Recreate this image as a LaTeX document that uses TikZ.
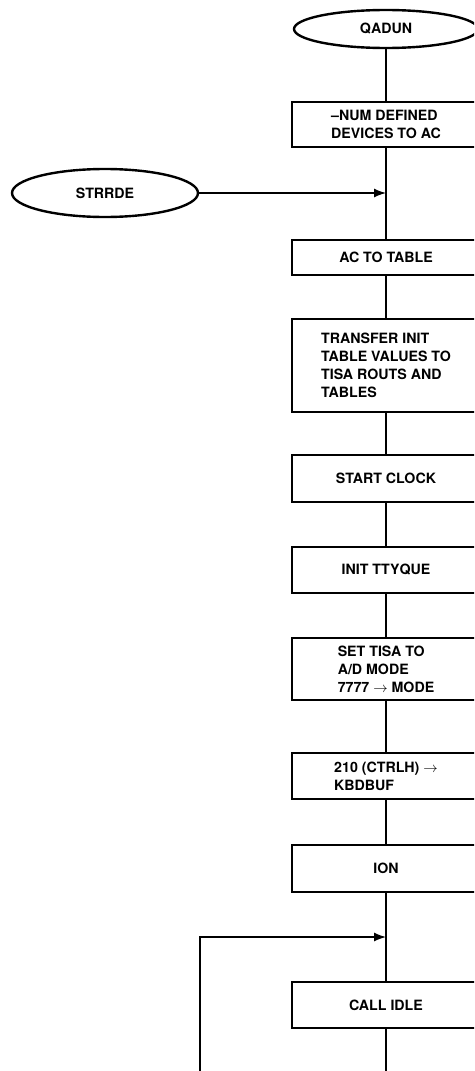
\documentclass[tikz,border=0pt]{standalone}
\usepackage{fontspec}
\setmainfont{TeX Gyre Heros}
\usetikzlibrary{arrows.meta,shapes.geometric}
\tikzset{
  blk/.style={draw,line width=2.4pt,minimum width=188pt,align=left,inner sep=0pt,font=\bfseries\fontsize{14.2}{18}\selectfont},
  term/.style={draw,ellipse,line width=2.4pt,inner sep=0pt,font=\bfseries\fontsize{14.2}{18}\selectfont},
  ln/.style={line width=1.3pt},
  ar/.style={ln,-{Latex[length=12pt,width=9pt]}}
}

\begin{document}
\begin{tikzpicture}[x=1pt,y=-1pt]
\useasboundingbox (0,0) rectangle (474,1071);
\clip (0,0) rectangle (474,1071);
% entry points
\node[term,minimum width=184pt,minimum height=38pt] (qadun) at (386,29) {QADUN};
\node[term,minimum width=186pt,minimum height=48pt] (strrde) at (105,193) {STRRDE};
% main column
\node[blk,minimum height=45pt] (b1) at (386,124.5) {–NUM DEFINED\\DEVICES TO AC};
\node[blk,minimum height=35pt] (b2) at (386,257.5) {AC TO TABLE};
\node[blk,minimum height=93pt] (b3) at (386,365.5) {TRANSFER INIT\\TABLE VALUES TO\\TISA ROUTS AND\\TABLES};
\node[blk,minimum height=47pt] (b4) at (386,478.5) {START CLOCK};
\node[blk,minimum height=46pt] (b5) at (386,570) {INIT TTYQUE};
\node[blk,minimum height=62pt] (b6) at (386,669) {SET TISA TO\\A/D MODE\\7777 $\rightarrow$ MODE};
\node[blk,minimum height=46pt] (b7) at (386,776) {210 (CTRLH) $\rightarrow$\\KBDBUF};
\node[blk,minimum height=47pt] (b8) at (386,868.5) {ION};
\node[blk,minimum height=46pt] (b9) at (386,1005) {CALL IDLE};
\coordinate (m1) at (386,193);
\coordinate (m2) at (386,937);
\coordinate (bot) at (386,1075);
\coordinate (lp) at (200,1075);
% connectors
\draw[ln] (qadun) -- (b1);
\draw[ar] (strrde) -- (m1);
\foreach \a/\b in {b1/b2,b2/b3,b3/b4,b4/b5,b5/b6,b6/b7,b7/b8,b8/b9}
  \draw[ln] (\a) -- (\b);
\draw[ln] (b9) -- (bot);
\draw[ar] (lp) |- (m2);
\end{tikzpicture}
\end{document}
